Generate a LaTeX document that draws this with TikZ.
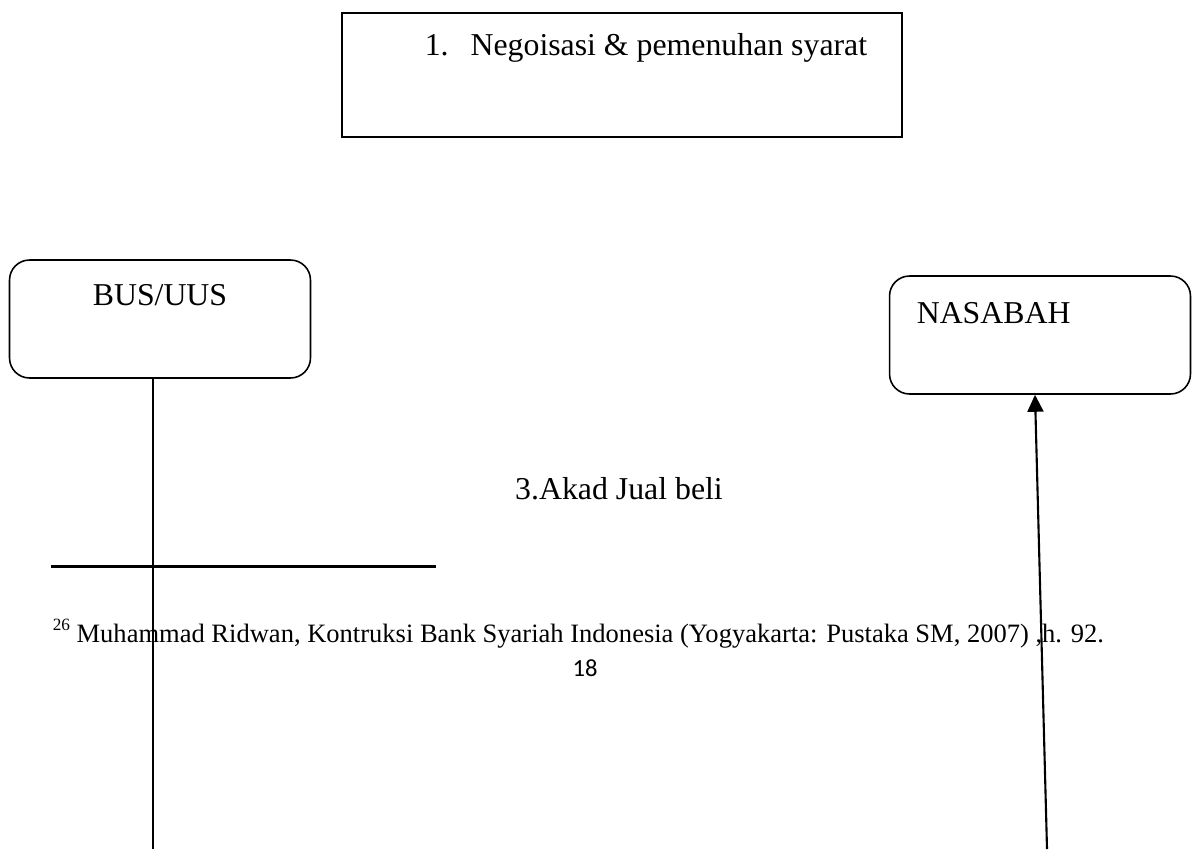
\documentclass[tikz,border=0pt]{standalone}
\usepackage{fontspec}
\setmainfont{Liberation Serif}
\newfontfamily\pagefont{Carlito}
\usetikzlibrary{positioning,arrows.meta}

\begin{document}
\begin{tikzpicture}[x=0.02cm, y=-0.02cm, line width=0.9pt,
  plainbox/.style={draw, minimum width=11.2cm, minimum height=2.48cm, inner sep=0pt},
  partybox/.style={draw, rounded corners=0.4cm, minimum width=6.02cm, minimum height=2.36cm, inner sep=0pt},
  bodytext/.style={font=\fontsize{18.1}{22}\selectfont, inner sep=0pt},
  foottext/.style={font=\fontsize{15.1}{18}\selectfont, inner sep=0pt}]

\useasboundingbox (0,0) rectangle (1192,849);

%Negoisasi box
\node[plainbox] (syarat) at (622,75) {};
\node[bodytext, anchor=base west] (syarat text) at (424,55) {1.\hspace{0.44cm}Negoisasi \& pemenuhan syarat};

%Parties
\node[partybox] (bus) at (160,319) {};
\node[bodytext, anchor=base] (bus text) at (160,305) {BUS/UUS};
\node[partybox] (nasabah) at (1040,335) {};
\node[bodytext, anchor=base west] (nasabah text) at (916,323) {NASABAH};

%Lines
\coordinate (bus end) at (153,849);
\coordinate (nasabah end) at (1047,849);
\draw (bus.south -| bus end) -- (bus end);
\draw[line width=1.2pt, -{Triangle[width=0.32cm, length=0.34cm]}] (nasabah end) -- ([xshift=-0.1cm]nasabah.south);

%Akad
\node[bodytext, anchor=base] (akad) at (619,499) {3.Akad Jual beli};

%Footnote
\draw[line width=1.7pt] (51,566) -- (436,566);
\node[foottext, anchor=base west] (note) at (52,642) {\raisebox{0.42em}{\fontsize{9.8}{10}\selectfont 26} Muhammad Ridwan, Kontruksi Bank Syariah Indonesia (Yogyakarta: Pustaka SM, 2007) ,h. 92.};
\node[anchor=base, inner sep=0pt, font=\pagefont\fontsize{14}{16}\selectfont] (page) at (585,676) {18};

\end{tikzpicture}
\end{document}
